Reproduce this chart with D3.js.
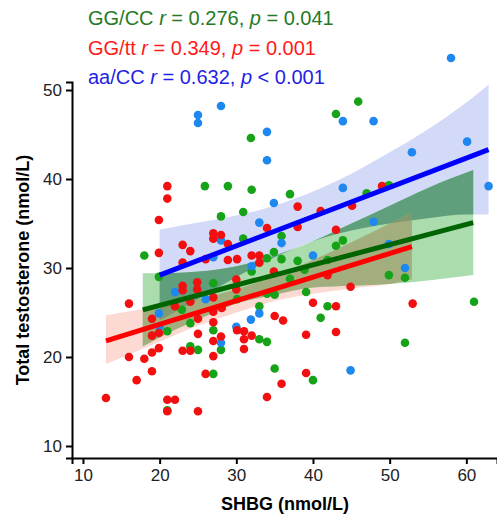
<!DOCTYPE html>
<html>
<head>
<meta charset="utf-8">
<script src="https://cdn.jsdelivr.net/npm/d3@7"></script>
<style>
  body { margin: 0; background: #fff; }
  svg { font-family: "Liberation Sans", Arial, sans-serif; }
</style>
</head>
<body>
<div id="chart"></div>
<script>
// legend / stats per group
var groupNames = ["GG/CC", "GG/tt", "aa/CC"];
var groupR = ["0.276", "0.349", "0.632"];
var groupP = ["= 0.041", "= 0.001", "< 0.001"];

// axis ticks
var xTicks = [10, 20, 30, 40, 50, 60];
var yTicks = [10, 20, 30, 40, 50];

// points [SHBG, testosterone]
var greenPoints = [
  [45.9, 48.7], [43.0, 47.3], [31.9, 44.6], [25.9, 39.2], [28.9, 39.2], [32.0, 38.8],
  [37.0, 38.3], [47.0, 38.4], [49.9, 39.3], [28.0, 35.8], [30.9, 36.3], [18.0, 31.4],
  [30.9, 33.3], [35.9, 33.6], [34.9, 31.8], [34.0, 31.1], [35.9, 31.0], [38.0, 30.8],
  [43.0, 32.5], [43.9, 33.1], [38.9, 29.8], [41.9, 30.9], [37.0, 28.8], [49.9, 29.2],
  [52.0, 28.9], [32.0, 29.6], [19.9, 29.0], [27.0, 28.3], [22.9, 25.3], [24.0, 23.8],
  [21.0, 22.9], [27.0, 23.0], [24.0, 21.2], [25.0, 20.8], [28.0, 20.8], [27.0, 18.1],
  [21.0, 14.0], [30.1, 26.5], [33.0, 25.7], [33.0, 22.0], [34.0, 21.7], [35.0, 18.7],
  [35.0, 27.0], [34.0, 27.1], [39.1, 27.3], [41.9, 25.7], [41.0, 24.4], [40.0, 17.4],
  [61.0, 26.2], [52.0, 21.6]
];
var bluePoints = [
  [58.0, 53.6], [25.0, 47.2], [25.0, 46.3], [28.0, 48.2], [34.0, 45.3], [34.0, 42.1],
  [43.9, 46.5], [47.9, 46.5], [60.1, 44.2], [52.9, 43.0], [62.9, 39.2], [43.9, 39.0],
  [47.9, 35.2], [49.9, 32.7], [52.0, 30.0], [44.9, 18.5], [34.9, 37.3], [33.0, 35.1],
  [35.9, 32.8], [28.0, 33.1], [40.0, 31.4], [32.0, 30.2], [33.0, 24.9], [31.9, 24.2],
  [30.0, 23.4], [28.0, 21.6], [27.0, 31.2], [22.0, 27.3], [26.0, 26.5], [19.9, 24.9],
  [20.0, 23.4]
];
var redPoints = [
  [49.0, 39.2], [21.0, 39.2], [21.0, 37.8], [19.9, 35.4], [38.0, 36.9], [41.0, 36.4],
  [45.1, 37.0], [34.0, 34.5], [38.0, 34.6], [43.0, 34.3], [27.0, 33.9], [28.0, 33.7],
  [27.0, 33.3], [23.0, 32.6], [24.0, 31.9], [19.9, 31.7], [28.9, 32.7], [28.9, 30.9],
  [30.1, 31.0], [26.0, 31.0], [23.0, 30.6], [32.0, 31.4], [33.0, 31.4], [33.0, 30.6],
  [34.9, 29.6], [41.9, 29.2], [24.9, 28.4], [23.0, 28.0], [23.0, 27.5], [24.9, 27.6],
  [30.0, 28.7], [30.0, 27.6], [16.0, 26.0], [24.0, 26.2], [22.0, 25.7], [27.0, 26.7],
  [28.1, 25.5], [27.0, 25.1], [27.0, 23.9], [19.0, 24.3], [19.9, 22.7], [19.0, 22.4],
  [19.9, 21.0], [25.0, 24.3], [25.0, 22.6], [27.0, 21.8], [28.0, 22.3], [27.0, 20.1],
  [31.0, 22.9], [32.0, 22.4], [31.0, 22.0], [31.0, 20.9], [30.1, 23.0], [23.0, 20.7],
  [24.0, 20.7], [16.0, 20.0], [18.0, 19.8], [19.0, 20.5], [19.0, 18.4], [17.0, 17.4],
  [26.0, 18.1], [13.0, 15.4], [21.0, 15.2], [22.0, 15.2], [21.0, 13.9], [25.0, 13.9],
  [34.0, 15.5], [35.9, 17.0], [39.1, 18.2], [35.0, 24.6], [36.1, 24.1], [40.0, 26.1],
  [43.0, 25.7], [44.9, 27.9], [53.0, 26.0], [39.1, 22.5], [43.0, 22.8]
];

// fitted lines [x, y] at both ends
var greenLine = [[17.8, 25.3], [60.9, 35.1]];
var redLine = [[13.0, 21.8], [52.9, 32.4]];
var blueLine = [[20.0, 29.2], [62.9, 43.3]];

// confidence bands
var blueBandX = [20, 25, 30, 35, 40, 45, 50, 55, 60, 62.9];
var blueBandHi = [34.3, 35.1, 35.9, 37.0, 38.6, 40.6, 43.0, 45.6, 48.6, 50.6];
var blueBandLo = [24.1, 26.5, 29.0, 31.2, 33.0, 34.2, 35.0, 35.6, 36.0, 36.0];
var greenBandX = [17.8, 20, 25, 30, 35, 40, 45, 50, 55, 60.9];
var greenBandHi = [29.4, 29.4, 29.6, 30.2, 31.4, 33.0, 35.0, 37.0, 39.0, 41.0];
var greenBandLo = [21.2, 22.2, 24.2, 26.0, 27.0, 27.8, 28.0, 28.2, 28.6, 29.2];
var redBandX = [13, 20, 25, 30, 35, 40, 45, 50, 52.9];
var redBandHi = [24.7, 25.7, 26.5, 27.6, 29.1, 30.9, 32.9, 35.0, 36.2];
var redBandLo = [19.2, 21.7, 23.5, 25.0, 26.3, 27.1, 27.7, 28.2, 28.7];

var width = 497, height = 521;
var svg = d3.select("#chart").append("svg")
    .attr("width", width)
    .attr("height", height);

var x = d3.scaleLinear().domain([8.57, 64]).range([72, 497]);
var y = d3.scaleLinear().domain([8.65, 50.9]).range([458, 82]);

function bandPath(xs, lo, hi) {
    var rows = xs.map(function (v, i) { return { x: v, lo: lo[i], hi: hi[i] }; });
    return d3.area()
        .x(function (d) { return x(d.x); })
        .y0(function (d) { return y(d.lo); })
        .y1(function (d) { return y(d.hi); })
        .curve(d3.curveMonotoneX)(rows);
}

var blueD = bandPath(blueBandX, blueBandLo, blueBandHi);
var greenD = bandPath(greenBandX, greenBandLo, greenBandHi);
var redD = bandPath(redBandX, redBandLo, redBandHi);

var defs = svg.append("defs");
defs.append("clipPath").attr("id", "clipBlue").append("path").attr("d", blueD);
defs.append("clipPath").attr("id", "clipRed").append("path").attr("d", redD);

// bands + overlaps
var bands = svg.append("g");
bands.append("path").attr("d", blueD).attr("fill", "#d2daf7");
bands.append("path").attr("d", redD).attr("fill", "#fcd9d2");
bands.append("path").attr("d", greenD).attr("fill", "#aadcae");
bands.append("path").attr("d", redD).attr("fill", "#d6c3d8").attr("clip-path", "url(#clipBlue)");
bands.append("path").attr("d", greenD).attr("fill", "#5f9f7c").attr("clip-path", "url(#clipBlue)");
bands.append("path").attr("d", greenD).attr("fill", "#a3ae7e").attr("clip-path", "url(#clipRed)");
bands.append("g").attr("clip-path", "url(#clipRed)")
    .append("path").attr("d", greenD).attr("fill", "#7f9a6c").attr("clip-path", "url(#clipBlue)");

// points
function drawPoints(data, color) {
    svg.append("g").selectAll("circle")
        .data(data)
        .enter()
        .append("circle")
        .attr("cx", function (d) { return x(d[0]); })
        .attr("cy", function (d) { return y(d[1]); })
        .attr("r", 4.3)
        .attr("fill", color);
}
drawPoints(greenPoints, "#17a317");
drawPoints(bluePoints, "#1e88f0");
drawPoints(redPoints, "#f20f0f");

// regression lines
function drawLine(data, color) {
    svg.append("line")
        .attr("x1", x(data[0][0])).attr("y1", y(data[0][1]))
        .attr("x2", x(data[1][0])).attr("y2", y(data[1][1]))
        .attr("stroke", color)
        .attr("stroke-width", 5);
}
drawLine(redLine, "#ff0000");
drawLine(greenLine, "#006400");
drawLine(blueLine, "#0000ff");

// axes
var xAxis = svg.append("g")
    .attr("transform", "translate(0,458)")
    .call(d3.axisBottom(x).tickValues(xTicks).tickSizeOuter(0).tickSize(6).tickPadding(5));
var yAxis = svg.append("g")
    .attr("transform", "translate(72,0)")
    .call(d3.axisLeft(y).tickValues(yTicks).tickSizeOuter(0).tickSize(6).tickPadding(4));
[xAxis, yAxis].forEach(function (a) {
    a.selectAll("path").attr("stroke", "#000").attr("stroke-width", 2);
    a.selectAll("line").attr("stroke", "#000").attr("stroke-width", 2);
    a.selectAll("text").attr("fill", "#222").style("font-size", "17px")
        .style("font-family", "Liberation Sans, Arial, sans-serif");
});

svg.append("text")
    .attr("x", 285).attr("y", 510)
    .attr("text-anchor", "middle")
    .style("font-size", "18px").style("font-weight", "bold")
    .text("SHBG (nmol/L)");
svg.append("text")
    .attr("transform", "translate(29,270) rotate(-90)")
    .attr("text-anchor", "middle")
    .style("font-size", "18px").style("font-weight", "bold")
    .text("Total testosterone (nmol/L)");

// legend text
var legendColors = ["#267a26", "#ff1a1a", "#1f1fe6"];
groupNames.forEach(function (g, i) {
    var t = svg.append("text")
        .attr("x", 88).attr("y", 25 + i * 29.5)
        .attr("fill", legendColors[i])
        .style("font-size", "20px");
    t.append("tspan").text(g + " ");
    t.append("tspan").style("font-style", "italic").text("r");
    t.append("tspan").text(" = " + groupR[i] + ", ");
    t.append("tspan").style("font-style", "italic").text("p");
    t.append("tspan").text(" " + groupP[i]);
});
</script>
</body>
</html>
